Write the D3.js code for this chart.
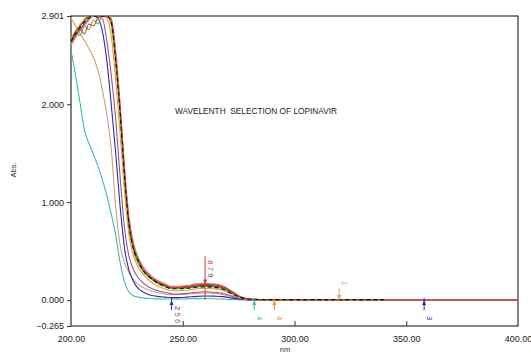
<!DOCTYPE html>
<html>
<head>
<meta charset="utf-8">
<script src="https://cdn.jsdelivr.net/npm/d3@7"></script>
<style>
  body { margin: 0; background: #fff; }
  svg { display: block; font-family: "Liberation Sans", Arial, sans-serif; }
</style>
</head>
<body>
<svg id="canvas" width="531" height="353"></svg>
<script>
// wavelength grid (nm)
var wavelengths = [200,202,204,206,208,210,212,214,216,218,220,222,224,226,228,230,232,235,238,242,245,248,252,256,260,264,268,272,276,280,290,300,340,400];

var cyan   = [2.55,2.30,2.02,1.74,1.60,1.49,1.37,1.23,1.07,0.88,0.66,0.38,0.18,0.08,0.045,0.03,0.022,0.016,0.012,0.01,0.01,0.01,0.012,0.015,0.016,0.014,0.01,0.005,0.002,0,0,0,0,0];
var tan    = [2.88,2.80,2.72,2.65,2.57,2.48,2.35,2.15,1.90,1.55,0.95,0.56,0.38,0.28,0.21,0.16,0.13,0.10,0.08,0.062,0.055,0.055,0.06,0.068,0.072,0.068,0.055,0.03,0.01,0.003,0,0,0,0];
var blue   = [2.64,2.70,2.76,2.82,2.87,2.90,2.88,2.75,2.45,2.00,1.50,0.95,0.52,0.30,0.19,0.12,0.085,0.055,0.04,0.03,0.025,0.025,0.03,0.038,0.042,0.04,0.035,0.02,0.008,0.002,0,0,0,0];
var purple = [2.62,2.70,2.77,2.82,2.87,2.90,2.90,2.88,2.65,2.30,1.85,1.25,0.72,0.44,0.31,0.23,0.18,0.13,0.10,0.078,0.065,0.062,0.068,0.08,0.085,0.08,0.068,0.04,0.014,0.004,0,0,0,0];
var orange = [2.62,2.72,2.80,2.86,2.90,2.90,2.90,2.90,2.88,2.70,2.25,1.70,1.10,0.66,0.45,0.34,0.27,0.20,0.15,0.115,0.095,0.095,0.10,0.115,0.12,0.115,0.10,0.06,0.022,0.006,0.002,0,0,0];
var yellow = [2.66,2.75,2.82,2.88,2.90,2.90,2.90,2.90,2.90,2.80,2.40,1.85,1.20,0.72,0.50,0.38,0.30,0.23,0.18,0.14,0.12,0.12,0.125,0.14,0.145,0.14,0.12,0.075,0.028,0.008,0.002,0,0,0];
var green  = [2.62,2.73,2.70,2.80,2.76,2.86,2.82,2.90,2.90,2.82,2.42,1.88,1.22,0.74,0.50,0.38,0.30,0.23,0.18,0.135,0.115,0.115,0.12,0.135,0.14,0.135,0.115,0.07,0.026,0.008,0.002,0,0,0];
var olive  = [2.65,2.74,2.80,2.85,2.90,2.90,2.90,2.90,2.90,2.86,2.50,1.95,1.28,0.78,0.53,0.41,0.32,0.24,0.19,0.15,0.125,0.125,0.13,0.145,0.15,0.145,0.125,0.08,0.03,0.009,0.003,0,0,0];
var red    = [2.63,2.70,2.76,2.72,2.82,2.80,2.88,2.90,2.90,2.85,2.48,1.95,1.30,0.80,0.55,0.42,0.33,0.25,0.20,0.155,0.13,0.13,0.14,0.155,0.16,0.155,0.135,0.085,0.03,0.01,0.003,0,0,0];
var pink   = [2.60,2.68,2.75,2.80,2.86,2.90,2.90,2.90,2.90,2.88,2.55,2.00,1.35,0.84,0.58,0.44,0.35,0.27,0.21,0.165,0.14,0.14,0.15,0.165,0.17,0.165,0.145,0.09,0.033,0.01,0.003,0,0,0];
var black  = [2.64,2.72,2.78,2.84,2.88,2.90,2.90,2.90,2.90,2.84,2.44,1.90,1.25,0.76,0.52,0.40,0.31,0.24,0.185,0.14,0.115,0.115,0.12,0.13,0.135,0.13,0.11,0.065,0.025,0.008,0.004,0.004,0.004,null];

var seriesList = [
  {name: "cyan",   values: cyan,   color: "#3fb8b4"},
  {name: "tan",    values: tan,    color: "#c9a27c"},
  {name: "blue",   values: blue,   color: "#2c2ca0"},
  {name: "purple", values: purple, color: "#9a52a0"},
  {name: "orange", values: orange, color: "#e69a3c"},
  {name: "yellow", values: yellow, color: "#e3cd3e"},
  {name: "green",  values: green,  color: "#4cc23c"},
  {name: "olive",  values: olive,  color: "#5c4a1e"},
  {name: "pink",   values: pink,   color: "#d88080"},
  {name: "red",    values: red,    color: "#d33a3a"},
  {name: "black",  values: black,  color: "#111111", dash: "4,3"}
];

// peak pick markers
var markWl    = [245, 245, 245, 260, 260, 260, 282, 291, 320, 358];
var markText  = ["2", "5", "6", "8", "7", "9", "4", "4", "1", "3"];
var markColor = ["#2c2ca0", "#d33a3a", "#5c6ab0", "#d33a3a", "#9a52a0", "#5c4a1e", "#3fb8b4", "#e69a3c", "#c9a27c", "#2c2ca0"];
var markAbove = [false, false, false, true, true, true, false, false, true, false];

var yTicks = [2.901, 2.000, 1.000, 0.000, -0.265];
var xTicks = [200, 250, 300, 350, 400];

(function() {
var svg = d3.select('#canvas');
var pLeft = 71, pRight = 518, pTop = 16, pBottom = 326;

var x = d3.scaleLinear().domain([200, 400]).range([pLeft, pRight]);
var y = d3.scaleLinear().domain([-0.265, 2.901]).range([pBottom, pTop]);

// frame
svg.append('rect')
    .attr('x', pLeft).attr('y', pTop)
    .attr('width', pRight - pLeft).attr('height', pBottom - pTop)
    .attr('fill', 'none').attr('stroke', '#333').attr('stroke-width', 1.2);

// y axis
var yAxis = svg.append('g')
    .attr('transform', 'translate(' + pLeft + ',0)')
    .call(d3.axisLeft(y).tickValues(yTicks).tickFormat(d3.format('.3f')).tickSize(4));
yAxis.select('.domain').remove();
yAxis.selectAll('line').attr('stroke', '#333');
yAxis.selectAll('text').attr('font-size', 9).attr('fill', '#222')
    .attr('font-family', '"Liberation Sans", Arial, sans-serif');

// x axis, ticks point inward
var xAxis = svg.append('g')
    .attr('transform', 'translate(0,' + pBottom + ')')
    .call(d3.axisBottom(x).tickValues(xTicks).tickFormat(d3.format('.2f')).tickSize(-5).tickPadding(10));
xAxis.select('.domain').remove();
xAxis.selectAll('line').attr('stroke', '#333')
    .filter(function(d) { return d === 200 || d === 400; }).remove();
xAxis.selectAll('text').attr('font-size', 9).attr('fill', '#222')
    .attr('font-family', '"Liberation Sans", Arial, sans-serif');

// axis titles
svg.append('text')
    .attr('transform', 'translate(16,170) rotate(-90)')
    .attr('text-anchor', 'middle')
    .attr('font-size', 7.5)
    .attr('fill', '#333')
    .text('Abs.');

svg.append('text')
    .attr('x', 285).attr('y', 352)
    .attr('text-anchor', 'middle')
    .attr('font-size', 7.5)
    .attr('fill', '#333')
    .text('nm');

svg.append('text')
    .attr('x', 256).attr('y', 114)
    .attr('text-anchor', 'middle')
    .attr('font-size', 8.3)
    .attr('fill', '#222')
    .style('white-space', 'pre')
    .text('WAVELENTH  SELECTION OF LOPINAVIR');

// spectra
svg.append('clipPath').attr('id', 'plotclip')
    .append('rect')
    .attr('x', pLeft).attr('y', pTop)
    .attr('width', pRight - pLeft).attr('height', pBottom - pTop);

var line = d3.line()
    .defined(function(d) { return d[1] !== null; })
    .x(function(d) { return x(d[0]); })
    .y(function(d) { return y(d[1]); })
    .curve(d3.curveMonotoneX);

var plot = svg.append('g').attr('clip-path', 'url(#plotclip)');

plot.selectAll('path.spec')
    .data(seriesList)
    .enter()
    .append('path')
    .attr('class', 'spec')
    .attr('d', function(s) {
        return line(wavelengths.map(function(w, i) { return [w, s.values[i]]; }));
    })
    .attr('fill', 'none')
    .attr('stroke', function(s) { return s.color; })
    .attr('stroke-width', 1.1)
    .attr('stroke-dasharray', function(s) { return s.dash || null; });

// markers
var marks = markWl.map(function(w, i) {
    return {wl: w, text: markText[i], color: markColor[i], above: markAbove[i]};
});

var counters = {};
marks.forEach(function(m) {
    counters[m.wl] = counters[m.wl] || 0;
    m.slot = counters[m.wl];
    counters[m.wl] += 1;
});

var mg = plot.selectAll('g.mark')
    .data(marks)
    .enter()
    .append('g')
    .attr('class', 'mark');

var first = mg.filter(function(m) { return m.slot === 0; });

first.append('line')
    .attr('x1', function(m) { return x(m.wl); })
    .attr('x2', function(m) { return x(m.wl); })
    .attr('y1', function(m) {
        if (m.above) return m.wl === 320 ? y(0) - 12 : y(0.16) - 28;
        return y(0) - 2;
    })
    .attr('y2', function(m) { return m.above ? y(0) : y(0) + 10; })
    .attr('stroke', function(m) { return m.color; })
    .attr('stroke-width', 1);

first.append('path')
    .attr('d', function(m) {
        var cx = x(m.wl);
        if (m.above) {
            var ty = m.wl === 320 ? y(0) : y(0.16);
            return 'M' + (cx - 2) + ',' + (ty - 5) + 'L' + (cx + 2) + ',' + (ty - 5) + 'L' + cx + ',' + ty + 'Z';
        }
        return 'M' + (cx - 2) + ',' + (y(0) + 5) + 'L' + (cx + 2) + ',' + (y(0) + 5) + 'L' + cx + ',' + y(0) + 'Z';
    })
    .attr('fill', function(m) { return m.color; });

mg.append('text')
    .attr('transform', function(m) {
        var cx = x(m.wl);
        var cy;
        if (m.above) {
            cy = (m.wl === 320 ? y(0) - 17 : y(0.16) - 22) + m.slot * 6.5;
        } else {
            cy = y(0) + (m.wl === 245 ? 8 : 18) + m.slot * 6.5;
        }
        return 'translate(' + (cx + 3) + ',' + cy + ') rotate(90)';
    })
    .attr('text-anchor', 'middle')
    .attr('font-size', 7.5)
    .attr('fill', function(m) { return m.color; })
    .text(function(m) { return m.text; });
})();
</script>
</body>
</html>
